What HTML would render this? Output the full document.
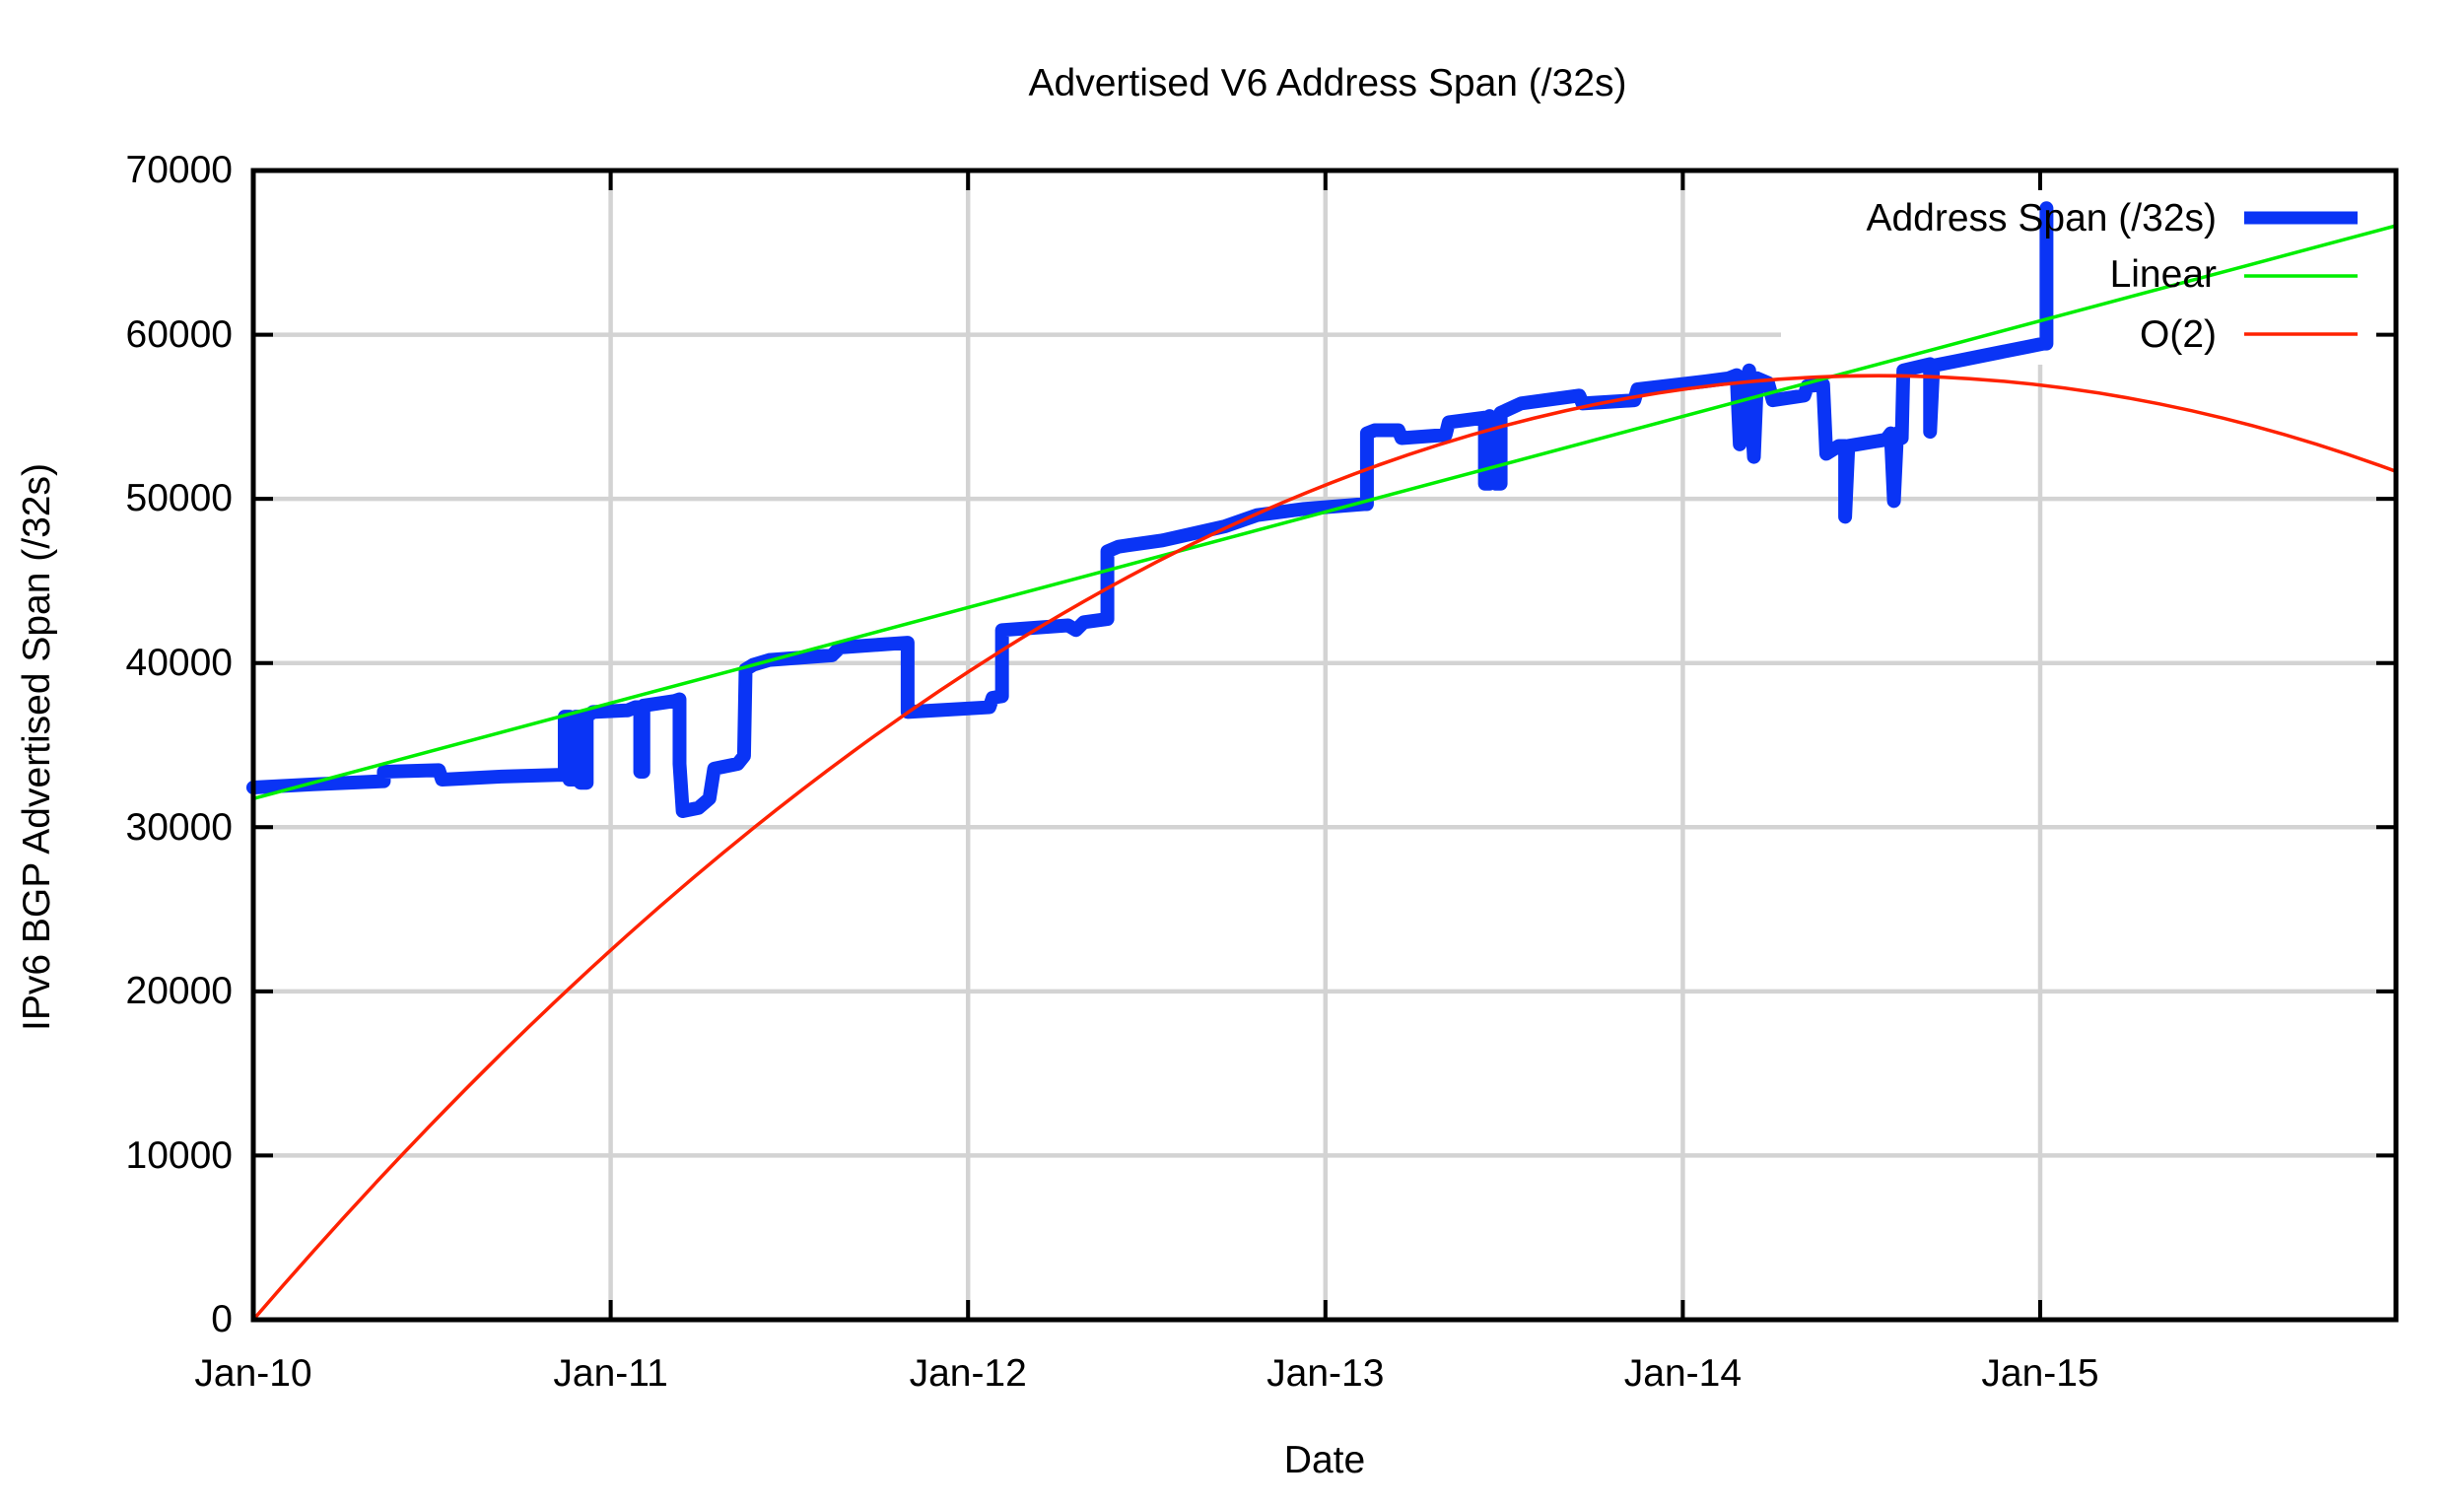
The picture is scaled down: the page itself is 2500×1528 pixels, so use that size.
<!DOCTYPE html>
<html><head><meta charset="utf-8"><style>
html,body{margin:0;padding:0;background:#fff;}
svg{display:block;}
text{font-family:"Liberation Sans",Arial,sans-serif;fill:#000;}
</style></head><body>
<svg width="2500" height="1528" viewBox="0 0 2500 1528" xmlns="http://www.w3.org/2000/svg">
<rect width="2500" height="1528" fill="#fff"/>
<g stroke="#d3d3d3" stroke-width="4.5" fill="none">
<line x1="257" y1="1172.4" x2="2431" y2="1172.4"/>
<line x1="257" y1="1005.9" x2="2431" y2="1005.9"/>
<line x1="257" y1="839.3" x2="2431" y2="839.3"/>
<line x1="257" y1="672.7" x2="2431" y2="672.7"/>
<line x1="257" y1="506.1" x2="2431" y2="506.1"/>
<line x1="257" y1="339.6" x2="1807" y2="339.6"/>
<line x1="619.6" y1="173" x2="619.6" y2="1339"/>
<line x1="982.2" y1="173" x2="982.2" y2="1339"/>
<line x1="1344.8" y1="173" x2="1344.8" y2="1339"/>
<line x1="1707.4" y1="173" x2="1707.4" y2="1339"/>
<line x1="2070" y1="370" x2="2070" y2="1339"/>
</g>
<g stroke="#000" stroke-width="4">
<path d="M257 1172.4h20M257 1005.9h20M257 839.3h20M257 672.7h20M257 506.1h20M257 339.6h20
M2431 1172.4h-20M2431 1005.9h-20M2431 839.3h-20M2431 672.7h-20M2431 506.1h-20M2431 339.6h-20
M619.6 1339v-20M982.2 1339v-20M1344.8 1339v-20M1707.4 1339v-20M2070 1339v-20
M619.6 173v20M982.2 173v20M1344.8 173v20M1707.4 173v20M2070 173v20"/>
</g>
<g transform="translate(-1.6,0.5) scale(1.596,1.597)">
<polyline vector-effect="non-scaling-stroke" fill="none" stroke="#0a34f5" stroke-width="14" stroke-linejoin="round" stroke-linecap="round"
points="162,500 200,498 245,496 245,490 280,489 282,495 320,493 355,492 360,492 360,455 363,455 363,495 367,495 367,455 370,455 370,497 374,497 374,455 378,452 400,451 405,449 408,449 408,490 410,490 410,448 430,445 433,444 433,485 435,515 445,513 452,507 455,488 470,485 474,480 475,425 480,422 490,419 530,416 535,411 578,408 578,452 630,449 632,443 638,442 638,400 680,397 685,400 690,395 705,393 705,350 712,347 740,343 780,334 800,327 830,323 868,320 870,320 870,275 875,273 890,273 892,278 920,276 922,268 945,265 945,307 948,307 948,264 952,307 955,307 955,262 968,256 1005,251 1007,256 1040,254 1042,247 1085,242 1100,240 1105,238 1107,282 1110,245 1113,235 1116,290 1118,240 1125,243 1128,254 1148,251 1150,245 1160,244 1162,288 1170,283 1174,283 1174,328 1176,283 1200,279 1203,275 1205,318 1207,275 1210,278 1211,235 1228,231 1228,274 1230,232 1245,229 1290,220 1300,218 1302,218 1302,132"/>
</g>
<line x1="257" y1="810.3" x2="2431" y2="229" stroke="#00ee00" stroke-width="3.5"/>
<path d="M257 1339 Q1344 76.2 2431 478.3" fill="none" stroke="#ff2200" stroke-width="3.5"/>
<rect x="257" y="173" width="2174" height="1166" fill="none" stroke="#000" stroke-width="5"/>
<g font-size="39" text-anchor="end">
<text x="2249" y="234">Address Span (/32s)</text>
<text x="2249" y="291">Linear</text>
<text x="2249" y="352">O(2)</text>
</g>
<line x1="2277" y1="221" x2="2392" y2="221" stroke="#0a34f5" stroke-width="13"/>
<line x1="2277" y1="280" x2="2392" y2="280" stroke="#00ee00" stroke-width="3.5"/>
<line x1="2277" y1="339" x2="2392" y2="339" stroke="#ff2200" stroke-width="3.5"/>
<g font-size="39" text-anchor="end">
<text x="236" y="1351">0</text>
<text x="236" y="1185">10000</text>
<text x="236" y="1018">20000</text>
<text x="236" y="852">30000</text>
<text x="236" y="685">40000</text>
<text x="236" y="518">50000</text>
<text x="236" y="352">60000</text>
<text x="236" y="185">70000</text>
</g>
<g font-size="39" text-anchor="middle">
<text x="257" y="1406">Jan-10</text>
<text x="619.6" y="1406">Jan-11</text>
<text x="982.2" y="1406">Jan-12</text>
<text x="1344.8" y="1406">Jan-13</text>
<text x="1707.4" y="1406">Jan-14</text>
<text x="2070" y="1406">Jan-15</text>
<text x="1344" y="1494">Date</text>
<text x="1347" y="97">Advertised V6 Address Span (/32s)</text>
<text transform="translate(50,758) rotate(-90)">IPv6 BGP Advertised Span (/32s)</text>
</g>
</svg>
</body></html>
